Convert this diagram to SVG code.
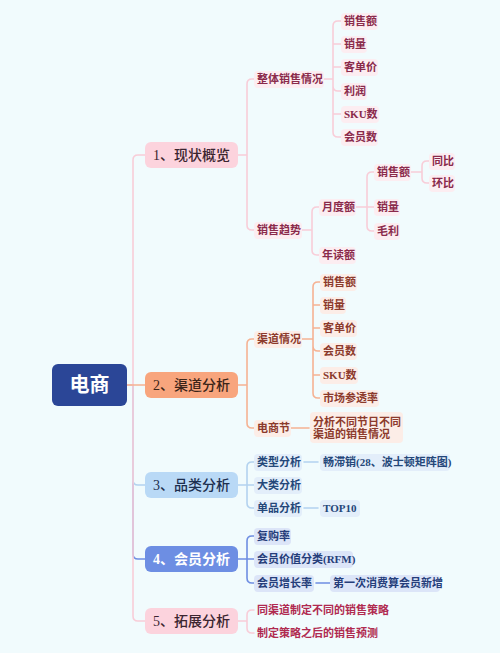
<svg xmlns="http://www.w3.org/2000/svg" width="500" height="653" viewBox="0 0 500 653">
<style>
text{font-family:"Liberation Serif","Noto Sans CJK SC",serif;font-weight:bold;dominant-baseline:central}
.t{font-size:11px}
.m{font-size:14px;font-weight:500}
.c{fill:none;stroke-linecap:round;stroke-linejoin:round}
.pk{stroke:#f8cdd8;stroke-width:1.6}
.or{stroke:#f5b293;stroke-width:1.6}
.lb{stroke:#b3d2ef;stroke-width:1.6}
.bl{stroke:#6f8ee2;stroke-width:1.6}
.tp{fill:#8a2a4b}
.to{fill:#8c3a2c}
.tl{fill:#244779}
.tb{fill:#253d7a}
.tr{fill:#b02a50}
.bp{fill:#fcedf1}
.bo{fill:#fcede7}
.bq{fill:#e3eefa}
.bb{fill:#dce5f8}
</style>
<rect width="500" height="653" fill="#f1fbfd"/>
<g id="connectors">
<path class="c bl" stroke-width="2" d="M127,385 H133 V554 Q133,559 138,559 H145"/>
<path class="c lb" stroke-width="2" d="M127,385 H133 V480 Q133,485 138,485 H145"/>
<path class="c pk" stroke-width="2" d="M127,385 H133 V160 Q133,155 138,155 H145"/>
<path class="c pk" stroke-width="2" d="M127,385 H133 V616 Q133,621 138,621 H145"/>
<path class="c or" stroke-width="2" d="M127,385 H145"/>
<path class="c pk" d="M238,155 H247 V84 Q247,79 252,79 H254 M247,155 V225 Q247,230 252,230 H254"/>
<path class="c pk" d="M321,79 H333 M333,79 V26 Q333,21 338,21 H341 M333,44 H341 M333,67 H341 M333,79 V86 Q333,91 338,91 H341 M333,114 H341 M333,91 V132 Q333,137 338,137 H341 M333,39 V49 M333,60 V114"/>
<path class="c pk" d="M300,230 H312 M312,230 V212 Q312,207 317,207 H319 M312,230 V250 Q312,255 317,255 H319"/>
<path class="c pk" d="M355,207 H374 M367,207 V177 Q367,172 372,172 H374 M367,207 V226 Q367,231 372,231 H374"/>
<path class="c pk" d="M408,172 H422 M422,172 V166 Q422,161 427,161 H429 M422,172 V178 Q422,183 427,183 H429"/>
<path class="c or" d="M238,385 H247 M247,385 V344 Q247,339 252,339 H254 M247,385 V423 Q247,428 252,428 H254"/>
<path class="c or" d="M299,339 H313 M313,339 V287 Q313,282 318,282 H320 M313,305 H320 M313,328 H320 M313,339 V346 Q313,351 318,351 H320 M313,375 H320 M313,346 V393 Q313,398 318,398 H320"/>
<path class="c or" d="M290,428 H309"/>
<path class="c lb" d="M238,485 H254 M247,485 V467 Q247,462 252,462 H254 M247,485 V503 Q247,508 252,508 H254"/>
<path class="c lb" d="M304,462 H318 M304,508 H318"/>
<path class="c bl" d="M238,559 H254 M247,559 V541 Q247,536 252,536 H254 M247,559 V578 Q247,583 252,583 H254"/>
<path class="c bl" d="M316,583 H330"/>
<path class="c pk" d="M238,621 H247 M247,621 V615 Q247,610 252,610 H254 M247,621 V628 Q247,633 252,633 H254"/>
</g>
<g id="root"><rect x="52" y="364" width="75" height="42" rx="6" fill="#2b4697"/><text x="89.5" y="385" font-size="20" fill="#fff" text-anchor="middle">电商</text></g>
<g id="n1"><rect x="145" y="142" width="93" height="26" rx="6" fill="#fcd3dd"/><text class="m" x="191.5" y="155" fill="#3b2530" text-anchor="middle">1、现状概览</text></g>
<g id="n2"><rect x="145" y="372" width="93" height="26" rx="6" fill="#f8a57d"/><text class="m" x="191.5" y="385" fill="#3b2418" text-anchor="middle">2、渠道分析</text></g>
<g id="n3"><rect x="145" y="472" width="93" height="26" rx="6" fill="#b9d9f6"/><text class="m" x="191.5" y="485" fill="#1d2f4f" text-anchor="middle">3、品类分析</text></g>
<g id="n4"><rect x="145" y="546" width="93" height="26" rx="6" fill="#6d8ee3"/><text class="m" x="191.5" y="559" fill="#fff" text-anchor="middle" style="font-weight:bold">4、会员分析</text></g>
<g id="n5"><rect x="145" y="608" width="93" height="26" rx="6" fill="#fcd3dd"/><text class="m" x="191.5" y="621" fill="#3b2530" text-anchor="middle">5、拓展分析</text></g>

<g id="n1-a"><rect class="bp" x="254" y="71" width="70" height="17" rx="4"/><text class="t tp" x="257" y="79">整体销售情况</text></g>
<g id="n1-a-1"><rect class="bp" x="341" y="13" width="37" height="17" rx="4"/><text class="t tp" x="344" y="21">销售额</text></g>
<g id="n1-a-2"><rect class="bp" x="341" y="36" width="26" height="17" rx="4"/><text class="t tp" x="344" y="44">销量</text></g>
<g id="n1-a-3"><rect class="bp" x="341" y="59" width="37" height="17" rx="4"/><text class="t tp" x="344" y="67">客单价</text></g>
<g id="n1-a-4"><rect class="bp" x="341" y="83" width="26" height="17" rx="4"/><text class="t tp" x="344" y="91">利润</text></g>
<g id="n1-a-5"><rect class="bp" x="341" y="106" width="38" height="17" rx="4"/><text class="t tp" x="344" y="114">SKU数</text></g>
<g id="n1-a-6"><rect class="bp" x="341" y="129" width="37" height="17" rx="4"/><text class="t tp" x="344" y="137">会员数</text></g>
<g id="n1-b"><rect class="bp" x="254" y="222" width="48" height="17" rx="4"/><text class="t tp" x="257" y="230">销售趋势</text></g>
<g id="n1-b-1"><rect class="bp" x="319" y="199" width="37" height="17" rx="4"/><text class="t tp" x="322" y="207">月度额</text></g>
<g id="n1-b-2"><rect class="bp" x="319" y="247" width="37" height="17" rx="4"/><text class="t tp" x="322" y="255">年读额</text></g>
<g id="n1-b-1-1"><rect class="bp" x="374" y="164" width="37" height="17" rx="4"/><text class="t tp" x="377" y="172">销售额</text></g>
<g id="n1-b-1-2"><rect class="bp" x="374" y="199" width="26" height="17" rx="4"/><text class="t tp" x="377" y="207">销量</text></g>
<g id="n1-b-1-3"><rect class="bp" x="374" y="223" width="26" height="17" rx="4"/><text class="t tp" x="377" y="231">毛利</text></g>
<g id="n1-b-1-1-1"><rect class="bp" x="429" y="153" width="26" height="17" rx="4"/><text class="t tp" x="432" y="161">同比</text></g>
<g id="n1-b-1-1-2"><rect class="bp" x="429" y="175" width="26" height="17" rx="4"/><text class="t tp" x="432" y="183">环比</text></g>

<g id="n2-a"><rect class="bo" x="254" y="331" width="48" height="17" rx="4"/><text class="t to" x="257" y="339">渠道情况</text></g>
<g id="n2-a-1"><rect class="bo" x="320" y="274" width="37" height="17" rx="4"/><text class="t to" x="323" y="282">销售额</text></g>
<g id="n2-a-2"><rect class="bo" x="320" y="297" width="26" height="17" rx="4"/><text class="t to" x="323" y="305">销量</text></g>
<g id="n2-a-3"><rect class="bo" x="320" y="320" width="37" height="17" rx="4"/><text class="t to" x="323" y="328">客单价</text></g>
<g id="n2-a-4"><rect class="bo" x="320" y="343" width="37" height="17" rx="4"/><text class="t to" x="323" y="351">会员数</text></g>
<g id="n2-a-5"><rect class="bo" x="320" y="367" width="38" height="17" rx="4"/><text class="t to" x="323" y="375">SKU数</text></g>
<g id="n2-a-6"><rect class="bo" x="320" y="390" width="59" height="17" rx="4"/><text class="t to" x="323" y="398">市场参透率</text></g>
<g id="n2-b"><rect class="bo" x="254" y="420" width="37" height="17" rx="4"/><text class="t to" x="257" y="428">电商节</text></g>
<g id="n2-b-1"><rect class="bo" x="310" y="412" width="93" height="31" rx="4"/><text class="t to" x="313" y="421.5">分析不同节日不同</text><text class="t to" x="313" y="434">渠道的销售情况</text></g>

<g id="n3-a"><rect class="bq" x="254" y="454" width="48" height="17" rx="4"/><text class="t tl" x="257" y="462">类型分析</text></g>
<g id="n3-a-1"><rect class="bq" x="320" y="454" width="130" height="17" rx="4"/><text class="t tl" x="323" y="462">畅滞销(28、波士顿矩阵图)</text></g>
<g id="n3-b"><rect class="bq" x="254" y="477" width="48" height="17" rx="4"/><text class="t tl" x="257" y="485">大类分析</text></g>
<g id="n3-c"><rect class="bq" x="254" y="500" width="48" height="17" rx="4"/><text class="t tl" x="257" y="508">单品分析</text></g>
<g id="n3-c-1"><rect class="bq" x="320" y="500" width="40" height="17" rx="4"/><text class="t tl" x="323" y="508">TOP10</text></g>

<g id="n4-a"><rect class="bb" x="254" y="528" width="37" height="17" rx="4"/><text class="t tb" x="257" y="536">复购率</text></g>
<g id="n4-b"><rect class="bb" x="254" y="551" width="99" height="17" rx="4"/><text class="t tb" x="257" y="559">会员价值分类(RFM)</text></g>
<g id="n4-c"><rect class="bb" x="254" y="575" width="60" height="17" rx="4"/><text class="t tb" x="257" y="583">会员增长率</text></g>
<g id="n4-c-1"><rect class="bb" x="330" y="575" width="110" height="17" rx="4"/><text class="t tb" x="333" y="583">第一次消费算会员新增</text></g>

<g id="n5-a"><text class="t tr" x="257" y="610">同渠道制定不同的销售策略</text></g>
<g id="n5-b"><text class="t tr" x="257" y="633">制定策略之后的销售预测</text></g>
</svg>
